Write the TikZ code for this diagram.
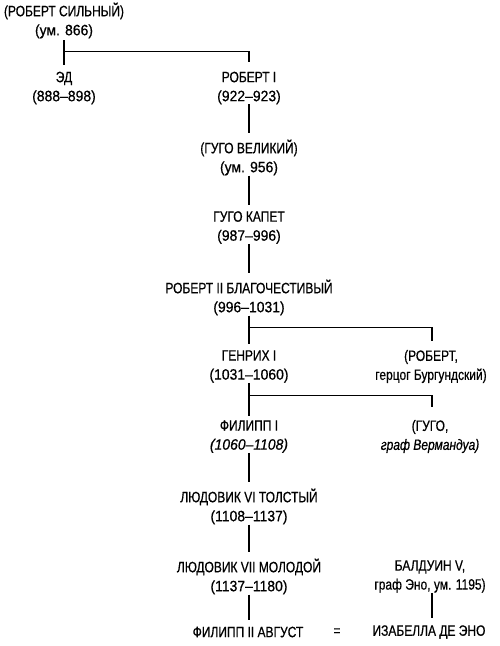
\documentclass[tikz,border=0pt]{standalone}
\usepackage{fontspec}
\setmainfont{Liberation Sans}[FakeStretch=0.8,FakeBold=0.6]
\newfontfamily\datefont{Liberation Sans}[FakeStretch=0.93,FakeBold=0.6]
\usetikzlibrary{calc}
\begin{document}
\begin{tikzpicture}[x=1pt,y=-1pt,
  person/.style={align=center,inner sep=0pt,font=\fontsize{15}{19}\selectfont},
  link/.style={line width=1.4pt}]
\useasboundingbox (0,0) rectangle (500,646);
% nodes
\node[person] (rs) at (64,20.5) {(РОБЕРТ СИЛЬНЫЙ)\\\datefont(ум. 866)};
\node[person] (ed) at (64,88) {ЭД\\\datefont(888–898)};
\node[person] (r1) at (249,88) {РОБЕРТ I\\\datefont(922–923)};
\node[person] (hv) at (249,157.5) {(ГУГО ВЕЛИКИЙ)\\\datefont(ум. 956)};
\node[person] (hc) at (249,227.5) {ГУГО КАПЕТ\\\datefont(987–996)};
\node[person] (r2) at (249,297.5) {РОБЕРТ II БЛАГОЧЕСТИВЫЙ\\\datefont(996–1031)};
\node[person] (h1) at (249,366.5) {ГЕНРИХ I\\\datefont(1031–1060)};
\node[person] (rb) at (431,366.5) {(РОБЕРТ,\\герцог Бургундский)};
\node[person] (f1) at (249,436.5) {ФИЛИПП I\\\datefont\itshape(1060–1108)};
\node[person] (hg) at (430,436.5) {(ГУГО,\\\itshape граф Вермандуа)};
\node[person] (l6) at (249,506.5) {ЛЮДОВИК VI ТОЛСТЫЙ\\\datefont(1108–1137)};
\node[person] (l7) at (249,576.5) {ЛЮДОВИК VII МОЛОДОЙ\\\datefont(1137–1180)};
\node[person] (bd) at (430,576.5) {БАЛДУИН V,\\граф Эно, ум. 1195)};
\node[person] (f2) at (248,632) {ФИЛИПП II АВГУСТ};
\node[person] (eq) at (337,632) {=};
\node[person] (iz) at (429,632) {ИЗАБЕЛЛА ДЕ ЭНО};
% connectors
\draw[link] ([yshift=-1.5pt]rs.south) -- ([yshift=7pt]ed.north);
\coordinate (j1) at ($(rs.south)+(0,13)$);
\draw[link] (j1) -| ([yshift=9.5pt]r1.north);
\draw[link] (r1.south) -- ([yshift=6.5pt]hv.north);
\draw[link] (hv.south) -- ([yshift=6.5pt]hc.north);
\draw[link] (hc.south) -- ([yshift=6.5pt]r2.north);
\draw[link] (r2.south) -- ([yshift=6.5pt]h1.north);
\coordinate (j2) at ($(r2.south)+(0,12)$);
\draw[link] (j2) -| ([xshift=1pt,yshift=8.5pt]rb.north);
\draw[link] (h1.south) -- ([yshift=4.5pt]f1.north);
\coordinate (j3) at ($(h1.south)+(0,12.5)$);
\draw[link] (j3) -| ([xshift=2pt,yshift=12.5pt]hg.north);
\draw[link] (f1.south) -- ([yshift=6.5pt]l6.north);
\draw[link] (l6.south) -- ([yshift=6.5pt]l7.north);
\draw[link] (l7.south) -- ([xshift=1pt,yshift=6.5pt]f2.north);
\draw[link] ([xshift=2pt]bd.south) -- ([xshift=3pt,yshift=7.5pt]iz.north);
\end{tikzpicture}
\end{document}
